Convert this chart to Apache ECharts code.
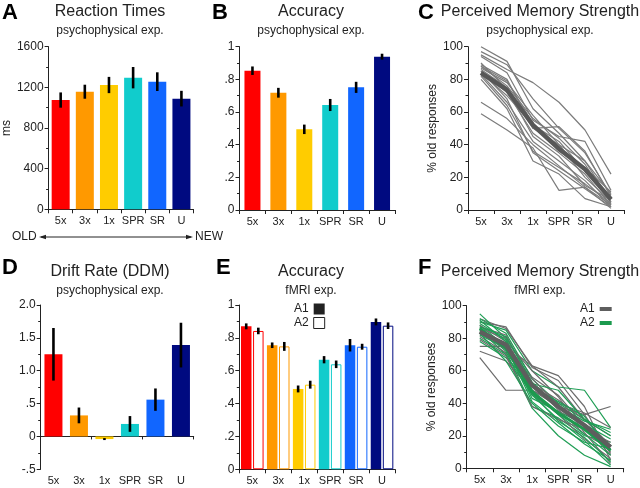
<!DOCTYPE html>
<html><head><meta charset="utf-8">
<script src="https://cdn.jsdelivr.net/npm/echarts@6/dist/echarts.min.js"></script>
<style>html,body{margin:0;padding:0;background:#fff}#c{width:640px;height:488px}</style>
</head><body><div id="c"></div>
<script>
// ---------- DATA ----------
const categories = ['5x', '3x', '1x', 'SPR', 'SR', 'U'];

const rtMean = [1075, 1157, 1223, 1295, 1256, 1089];
const rtErr = [75, 69, 80, 105, 92, 77];

const accPsyMean = [0.853, 0.718, 0.494, 0.643, 0.751, 0.939];
const accPsyErr = [0.026, 0.03, 0.029, 0.037, 0.034, 0.018];

const driftMean = [1.25, 0.32, -0.04, 0.19, 0.56, 1.39];
const driftErr = [0.40, 0.12, 0.015, 0.12, 0.17, 0.34];

const accA1 = [0.870, 0.755, 0.489, 0.667, 0.755, 0.897];
const accA1Err = [0.018, 0.017, 0.021, 0.022, 0.038, 0.021];
const accA2 = [0.842, 0.748, 0.515, 0.639, 0.746, 0.874];
const accA2Err = [0.02, 0.027, 0.024, 0.023, 0.018, 0.02];

const pmsPsyMean = [84, 73.5, 52, 37.5, 25, 6.5];
const pmsPsySubjects = [
  [100, 91, 62, 47, 30, 5],
  [97, 89, 68, 50, 35, 9],
  [95, 86, 78, 66, 49, 22],
  [94, 84, 55, 45, 42, 12],
  [89, 80, 50, 51, 36, 8],
  [88, 76, 56, 44, 28, 4],
  [86, 75, 50, 40, 30, 10],
  [85, 72, 47, 35, 22, 3],
  [84, 70, 52, 42, 24, 7],
  [83, 66, 42, 30, 18, 2],
  [82, 64, 36, 26, 16, 4],
  [80, 62, 30, 22, 7, 2],
  [87, 78, 58, 40, 20, 5],
  [66, 56, 40, 27, 14, 3],
  [59, 49, 38, 12, 14, 1],
  [90, 74, 45, 33, 15, 6],
  [85, 68, 35, 24, 13, 2],
  [88, 79, 53, 36, 26, 11]
];

const pmsA1Mean = [84, 76, 51, 38, 26.5, 13];
const pmsA1Subjects = [
  [92, 86, 63, 57, 38, 5],
  [90, 87, 62, 54, 33, 9],
  [75, 75, 63, 50, 30, 20],
  [68, 48, 48, 38, 33, 38],
  [72, 66, 48, 40, 34, 25],
  [86, 80, 56, 45, 26, 8],
  [81, 71, 52, 42, 30, 14],
  [88, 78, 60, 44, 22, 3],
  [83, 73, 46, 33, 18, 6],
  [87, 82, 52, 36, 21, 12],
  [79, 69, 38, 30, 24, 16],
  [84, 77, 55, 39, 27, 10]
];
const pmsA2Mean = [86, 74, 47, 34, 24, 11];
const pmsA2Subjects = [
  [95, 80, 45, 30, 17, 2],
  [90, 85, 60, 50, 48, 25],
  [85, 70, 37, 20, 8, 1],
  [88, 75, 41, 28, 15, 5],
  [80, 70, 45, 34, 24, 14],
  [92, 83, 55, 40, 30, 20],
  [86, 72, 38, 31, 20, 16],
  [78, 68, 52, 48, 30, 22],
  [84, 77, 43, 35, 27, 18],
  [89, 79, 48, 33, 21, 8],
  [83, 66, 40, 26, 16, 12],
  [87, 81, 53, 38, 29, 24],
  [82, 74, 50, 41, 32, 11],
  [91, 78, 46, 29, 19, 4]
];

// ---------- STYLE ----------
const FONT = '"Liberation Sans", Arial, sans-serif';
const INK = '#222';
const catColors = ['#ff0000', '#ff9900', '#ffcc00', '#11cccc', '#1166ff', '#000a80'];

const grids = [
  {left: 40.5, top: 46.7, width: 153, height: 162.6},   // A
  {left: 239.5, top: 46.7, width: 155.5, height: 163.3}, // B
  {left: 468, top: 46.7, width: 156, height: 163.3},    // C
  {left: 40.7, top: 305, width: 153, height: 164.3},    // D
  {left: 239.3, top: 305, width: 155.7, height: 164.3}, // E
  {left: 466.7, top: 305.7, width: 157, height: 162.6}  // F
];

function xCat(gi, extra) {
  return Object.assign({
    type: 'category', gridIndex: gi, data: categories, boundaryGap: true,
    axisLine: {onZero: false, lineStyle: {color: INK, width: 1}},
    axisTick: {show: true, length: 4, lineStyle: {color: INK}},
    axisLabel: {color: INK, fontSize: 11, margin: 6, interval: 0, fontFamily: FONT},
    splitLine: {show: false}
  }, extra || {});
}
function yVal(gi, min, max, interval, fmt, extra) {
  return Object.assign({
    type: 'value', gridIndex: gi, min: min, max: max, interval: interval,
    axisLine: {show: true, lineStyle: {color: INK, width: 1}},
    axisTick: {show: true, length: 4, lineStyle: {color: INK}},
    minorTick: {show: true, splitNumber: 2, length: 2.5, lineStyle: {color: INK}},
    axisLabel: {color: INK, fontSize: 12, margin: 5, fontFamily: FONT, formatter: fmt},
    splitLine: {show: false},
    nameTextStyle: {color: INK, fontSize: 12, fontFamily: FONT}
  }, extra || {});
}
const fmtInt = v => String(Math.round(v));
const fmtDec = v => {
  const r = Math.round(v * 10) / 10;
  if (r === 0) return '0';
  if (r === 1) return '1';
  return String(r).replace('0.', '.');
};
const fmtDrift = v => {
  const r = Math.round(v * 10) / 10;
  if (r === 0) return '0';
  if (r === 0.5) return '.5';
  if (r === -0.5) return '-.5';
  return r.toFixed(1);
};

function errSeries(xi, yi, means, errs, offset, name) {
  return {
    type: 'custom', name: name, xAxisIndex: xi, yAxisIndex: yi, z: 10, silent: true,
    data: means.map((m, i) => [i, m - errs[i], m + errs[i]]),
    encode: {x: 0, y: [1, 2]},
    renderItem: function (params, api) {
      const p1 = api.coord([api.value(0), api.value(1)]);
      const p2 = api.coord([api.value(0), api.value(2)]);
      return {type: 'line',
        shape: {x1: p1[0] + offset, y1: p1[1], x2: p2[0] + offset, y2: p2[1]},
        style: {stroke: '#000', lineWidth: 2.6}};
    }
  };
}
function barSeries(xi, yi, vals, width, name) {
  return {
    type: 'bar', name: name, xAxisIndex: xi, yAxisIndex: yi, barWidth: width,
    data: vals.map((v, i) => ({value: v, itemStyle: {color: catColors[i]}}))
  };
}
function thinLine(xi, yi, vals, color, w) {
  return {type: 'line', xAxisIndex: xi, yAxisIndex: yi, data: vals, symbol: 'none',
    silent: true, lineStyle: {color: color, width: w}, z: 2};
}

const series = [];
// A
series.push(barSeries(0, 0, rtMean, 18, 'rt'));
series.push(errSeries(0, 0, rtMean, rtErr, 0, 'rtErr'));
// B
series.push(barSeries(1, 1, accPsyMean, 16, 'accPsy'));
series.push(errSeries(1, 1, accPsyMean, accPsyErr, 0, 'accPsyErr'));
// C
pmsPsySubjects.forEach(s => series.push(thinLine(2, 2, s, '#7c7c7c', 1.2)));
series.push({type: 'line', name: 'pmsPsyMean', xAxisIndex: 2, yAxisIndex: 2, data: pmsPsyMean,
  symbol: 'none', lineStyle: {color: '#575757', width: 4.5}, z: 5});
// D
series.push(barSeries(3, 3, driftMean, 18, 'drift'));
series.push(errSeries(3, 3, driftMean, driftErr, 0, 'driftErr'));
// E
series.push({type: 'bar', name: 'A1', xAxisIndex: 5, yAxisIndex: 4, barWidth: 10.5, barGap: '15%',
  itemStyle: {color: '#222'},
  data: accA1.map((v, i) => ({value: v, itemStyle: {color: catColors[i]}}))});
series.push({type: 'bar', name: 'A2', xAxisIndex: 5, yAxisIndex: 4, barWidth: 10.5, barGap: '15%',
  itemStyle: {color: '#fff', borderColor: '#222', borderWidth: 1},
  data: accA2.map((v, i) => ({value: v, itemStyle: {color: '#fff', borderColor: catColors[i], borderWidth: 1}}))});
series.push(errSeries(5, 4, accA1, accA1Err, -6.05, 'A1err'));
series.push(errSeries(5, 4, accA2, accA2Err, 6.05, 'A2err'));
// F
const nMax = Math.max(pmsA1Subjects.length, pmsA2Subjects.length);
for (let k = 0; k < nMax; k++) {
  if (pmsA1Subjects[k]) series.push(thinLine(6, 5, pmsA1Subjects[k], '#6c6c6c', 1.2));
  if (pmsA2Subjects[k]) series.push(thinLine(6, 5, pmsA2Subjects[k], '#1f9e55', 1.2));
}
series.push({type: 'line', name: 'F-A2', xAxisIndex: 6, yAxisIndex: 5, data: pmsA2Mean,
  symbol: 'none', lineStyle: {color: '#1c9a4e', width: 3}, itemStyle: {color: '#1c9a4e'}, z: 4});
series.push({type: 'line', name: 'F-A1', xAxisIndex: 6, yAxisIndex: 5, data: pmsA1Mean,
  symbol: 'none', lineStyle: {color: '#5e5e5e', width: 4.5}, itemStyle: {color: '#5e5e5e'}, z: 5});

function mkTitle(text, sub, cx, top) {
  return {text: text, subtext: sub, left: cx, top: top, textAlign: 'center', padding: 0, itemGap: 5,
    textStyle: {fontSize: 16, fontWeight: 'normal', color: INK, fontFamily: FONT},
    subtextStyle: {fontSize: 12, color: INK, fontFamily: FONT}};
}
function mkLetter(t, x, y) {
  return {text: t, left: x, top: y, padding: 0,
    textStyle: {fontSize: 22, fontWeight: 'bold', color: '#000', fontFamily: FONT}};
}

const option = {
  animation: false,
  backgroundColor: '#fff',
  title: [
    mkLetter('A', 2, 2), mkLetter('B', 212, 2), mkLetter('C', 418, 2),
    mkLetter('D', 2, 257), mkLetter('E', 216, 257), mkLetter('F', 418, 257),
    mkTitle('Reaction Times', 'psychophysical exp.', 110, 4),
    mkTitle('Accuracy', 'psychophysical exp.', 311, 4),
    mkTitle('Perceived Memory Strength', 'psychophysical exp.', 540, 4),
    mkTitle('Drift Rate (DDM)', 'psychophysical exp.', 110, 264),
    mkTitle('Accuracy', 'fMRI exp.', 311, 264),
    mkTitle('Perceived Memory Strength', 'fMRI exp.', 540, 264)
  ],
  legend: [
    {left: 294, top: 303, orient: 'vertical', align: 'right', itemWidth: 11, itemHeight: 11, itemGap: 2,
      padding: 0, selectedMode: false, icon: 'rect',
      textStyle: {fontSize: 12, color: INK, fontFamily: FONT},
      data: [{name: 'A1', itemStyle: {color: '#222'}},
             {name: 'A2', itemStyle: {color: '#fff', borderColor: '#222', borderWidth: 1}}]},
    {left: 580, top: 303, orient: 'vertical', align: 'right', itemWidth: 12, itemHeight: 4, itemGap: 2,
      padding: 0, selectedMode: false, icon: 'rect',
      textStyle: {fontSize: 12, color: INK, fontFamily: FONT},
      formatter: n => n.slice(2),
      data: [{name: 'F-A1', itemStyle: {color: '#5e5e5e'}},
             {name: 'F-A2', itemStyle: {color: '#1c9a4e'}}]}
  ],
  grid: grids,
  xAxis: [
    xCat(0), xCat(1), xCat(2),
    xCat(3, {position: 'bottom', axisLine: {show: false, onZero: false}, axisTick: {show: false}}),
    xCat(3, {position: 'top', axisLine: {show: true, onZero: true, lineStyle: {color: INK}},
             axisTick: {show: true, inside: true, length: 3, lineStyle: {color: INK}},
             axisLabel: {show: false}}),
    xCat(4), xCat(5)
  ],
  yAxis: [
    yVal(0, 0, 1600, 400, fmtInt, {name: 'ms', nameLocation: 'middle', nameGap: 31}),
    yVal(1, 0, 1, 0.2, fmtDec),
    yVal(2, 0, 100, 20, fmtInt, {name: '% old responses', nameLocation: 'middle', nameGap: 18}),
    yVal(3, -0.5, 2, 0.5, fmtDrift),
    yVal(4, 0, 1, 0.2, fmtDec),
    yVal(5, 0, 100, 20, fmtInt, {name: '% old responses', nameLocation: 'middle', nameGap: 18})
  ],
  graphic: [
    {type: 'text', left: 12, top: 231, style: {text: 'OLD', fontSize: 12, fill: INK, fontFamily: FONT}},
    {type: 'text', left: 195, top: 231, style: {text: 'NEW', fontSize: 12, fill: INK, fontFamily: FONT}},
    {type: 'line', shape: {x1: 41, y1: 237, x2: 191, y2: 237}, style: {stroke: INK, lineWidth: 1}},
    {type: 'polygon', shape: {points: [[39, 237], [46, 234.8], [46, 239.2]]}, style: {fill: INK}},
    {type: 'polygon', shape: {points: [[193, 237], [186, 234.8], [186, 239.2]]}, style: {fill: INK}}
  ],
  series: series
};

const chart = echarts.init(document.getElementById('c'), null, {renderer: 'canvas'});
chart.setOption(option);
</script></body></html>
